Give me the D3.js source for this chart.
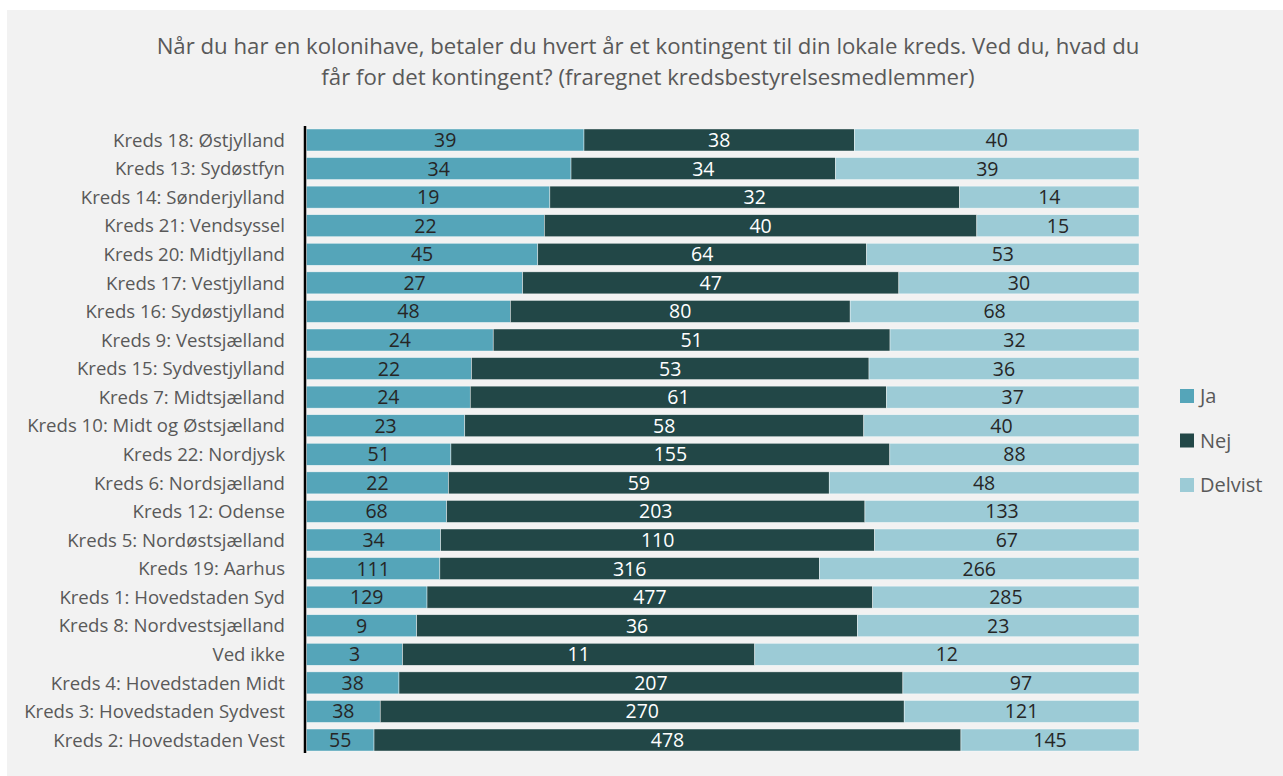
<!DOCTYPE html>
<html><head><meta charset="utf-8">
<script src="https://cdn.jsdelivr.net/npm/d3@7"></script>
<style>
html,body{margin:0;padding:0;background:#fff;}
svg{display:block;}
</style></head>
<body>
<svg id="chart" width="1283" height="776"></svg>
<script>
const titleLines = ["Når du har en kolonihave, betaler du hvert år et kontingent til din lokale kreds. Ved du, hvad du",
  "får for det kontingent? (fraregnet kredsbestyrelsesmedlemmer)"];
const categories = ["Kreds 18: Østjylland","Kreds 13: Sydøstfyn","Kreds 14: Sønderjylland","Kreds 21: Vendsyssel",
  "Kreds 20: Midtjylland","Kreds 17: Vestjylland","Kreds 16: Sydøstjylland","Kreds 9: Vestsjælland",
  "Kreds 15: Sydvestjylland","Kreds 7: Midtsjælland","Kreds 10: Midt og Østsjælland","Kreds 22: Nordjysk",
  "Kreds 6: Nordsjælland","Kreds 12: Odense","Kreds 5: Nordøstsjælland","Kreds 19: Aarhus",
  "Kreds 1: Hovedstaden Syd","Kreds 8: Nordvestsjælland","Ved ikke","Kreds 4: Hovedstaden Midt",
  "Kreds 3: Hovedstaden Sydvest","Kreds 2: Hovedstaden Vest"];
const seriesNames = ["Ja","Nej","Delvist"];
const ja      = [39,34,19,22,45,27,48,24,22,24,23,51,22,68,34,111,129,9,3,38,38,55];
const nej     = [38,34,32,40,64,47,80,51,53,61,58,155,59,203,110,316,477,36,11,207,270,478];
const delvist = [40,39,14,15,53,30,68,32,36,37,40,88,48,133,67,266,285,23,12,97,121,145];
const colors = ["#55a5b9","#224747","#9ccbd6"];
const textColors = ["#262626","#ffffff","#262626"];

const svg = d3.select("#chart");
svg.append("rect").attr("x",7).attr("y",10).attr("width",1276).attr("height",766).attr("fill","#f2f2f2");

const font = "'Open Sans', sans-serif";
svg.append("g").selectAll("text").data(titleLines).join("text")
  .attr("x",648).attr("y",(d,i)=>54+i*31).attr("text-anchor","middle")
  .attr("font-family",font).attr("font-size",22.2).attr("fill","#595959").text(d=>d);

const rows = categories.map((c,i)=>({cat:c, vals:[ja[i],nej[i],delvist[i]]}));
const stackData = rows.map(r=>{const t=d3.sum(r.vals); const o={cat:r.cat}; seriesNames.forEach((s,k)=>o[s]=r.vals[k]/t); o.raw=r.vals; return o;});
const stack = d3.stack().keys(seriesNames)(stackData);

const x = d3.scaleLinear().domain([0,1]).range([306.5,1139]);
const y = d3.scaleBand().domain(categories).range([125.7,754.3]).paddingInner(0.23).paddingOuter(0.115);

const g = svg.append("g");
stack.forEach((layer,k)=>{
  const lg = g.append("g");
  lg.selectAll("rect").data(layer).join("rect")
    .attr("x",d=>x(d[0])).attr("y",d=>y(d.data.cat))
    .attr("width",d=>x(d[1])-x(d[0])).attr("height",y.bandwidth())
    .attr("fill",colors[k]).attr("stroke","#ffffff").attr("stroke-width",0.6).attr("stroke-opacity",0.7);
  lg.selectAll("text").data(layer).join("text")
    .attr("x",d=>(x(d[0])+x(d[1]))/2).attr("y",d=>y(d.data.cat)+y.bandwidth()/2+7)
    .attr("text-anchor","middle").attr("font-family",font).attr("font-size",19.5)
    .attr("fill",textColors[k]).text(d=>d.data.raw[k]);
});

const yAxis = d3.axisLeft(y).tickSize(0).tickPadding(20);
const ag = svg.append("g").attr("transform","translate(305,0)").call(yAxis);
ag.select(".domain").attr("stroke","#000").attr("stroke-width",2.5).attr("d","M0,126V753");
ag.selectAll("text").attr("font-family",font).attr("font-size",18.6).attr("fill","#595959").attr("dy","0.36em");

const legend = svg.append("g");
seriesNames.forEach((s,k)=>{
  legend.append("rect").attr("x",1180).attr("y",389+k*44.5).attr("width",14).attr("height",14).attr("fill",colors[k]);
  legend.append("text").attr("x",1200).attr("y",403+k*44.5).attr("font-family",font).attr("font-size",20).attr("fill","#595959").text(s);
});
</script>
</body></html>
